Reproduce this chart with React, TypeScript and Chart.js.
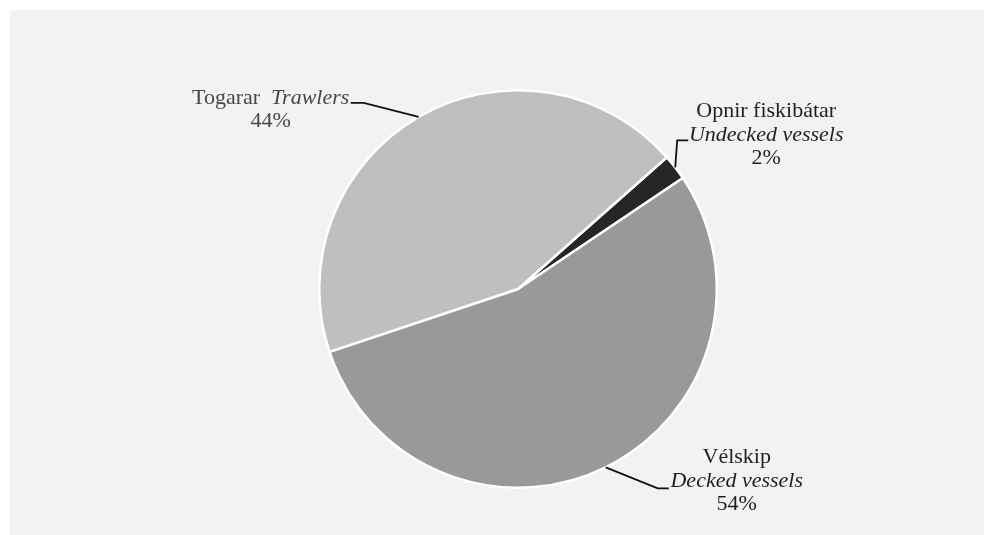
import React, { useEffect, useRef } from "react";
import { Chart, registerables } from "chart.js";

Chart.register(...registerables);

// ---- data ----
const categoryNames = ["Opnir fiskibátar", "Vélskip", "Togarar"];
const categoryNamesEn = ["Undecked vessels", "Decked vessels", "Trawlers"];
const shares = [2.1, 54.3, 43.6];
const sliceColors = ["#262626", "#999999", "#bfbfbf"];

// ---- label layout (relative to slice mid-point on the rim) ----
const labelLayout = [
  { elbow: [2, -27], tail: 11, textDx: 78, textDy: -29, inline: false, color: "#1f1f1f" },
  { elbow: [52, 21], tail: 11, textDx: 68, textDy: -31, inline: false, color: "#1f1f1f" },
  { elbow: [-55, -14], tail: -13, textDx: -80, textDy: -5, inline: true, color: "#474747" },
];

const FONT_SIZE = 22;
const FAMILY = '"Liberation Serif", "Times New Roman", serif';
const LINE_STEP = 23.5;

const leaderPlugin = {
  id: "leaderLabels",
  afterDatasetsDraw(chart: any) {
    const ctx = chart.ctx as CanvasRenderingContext2D;
    const meta = chart.getDatasetMeta(0);
    const data = chart.data.datasets[0].data as number[];
    const total = data.reduce((a, b) => a + b, 0);
    meta.data.forEach((arc: any, i: number) => {
      const p = arc.getProps(["x", "y", "startAngle", "endAngle", "outerRadius"], true);
      const mid = (p.startAngle + p.endAngle) / 2;
      const ax = p.x + Math.cos(mid) * p.outerRadius;
      const ay = p.y + Math.sin(mid) * p.outerRadius;
      const L = labelLayout[i];
      const ex = ax + L.elbow[0];
      const ey = ay + L.elbow[1];
      const tx = ex + L.tail;
      ctx.save();
      ctx.strokeStyle = "#111111";
      ctx.lineWidth = 1.8;
      ctx.beginPath();
      ctx.moveTo(ax, ay);
      ctx.lineTo(ex, ey);
      ctx.lineTo(tx, ey);
      ctx.stroke();

      const cx = tx + L.textDx;
      let y = ey + L.textDy;
      const pct = Math.round((data[i] / total) * 100) + "%";
      const regular = `${FONT_SIZE}px ${FAMILY}`;
      const italic = `italic ${FONT_SIZE}px ${FAMILY}`;
      ctx.fillStyle = L.color;
      ctx.textBaseline = "middle";
      const lines: Array<Array<[string, string]>> = L.inline
        ? [[[categoryNames[i] + "  ", regular], [categoryNamesEn[i], italic]], [[pct, regular]]]
        : [[[categoryNames[i], regular]], [[categoryNamesEn[i], italic]], [[pct, regular]]];
      lines.forEach((parts) => {
        let w = 0;
        parts.forEach(([t, f]) => {
          ctx.font = f;
          w += ctx.measureText(t).width;
        });
        let x = cx - w / 2;
        ctx.textAlign = "left";
        parts.forEach(([t, f]) => {
          ctx.font = f;
          ctx.fillText(t, x, y);
          x += ctx.measureText(t).width;
        });
        y += LINE_STEP;
      });
      ctx.restore();
    });
  },
};

export default function App() {
  const ref = useRef<HTMLCanvasElement | null>(null);
  useEffect(() => {
    if (!ref.current) return;
    const chart = new Chart(ref.current, {
      type: "pie",
      data: {
        labels: categoryNames,
        datasets: [
          {
            data: shares,
            backgroundColor: sliceColors,
            borderColor: "#ffffff",
            borderWidth: 2.5,
          },
        ],
      },
      options: {
        responsive: false,
        animation: false,
        rotation: 48.5,
        layout: { padding: { top: 89, bottom: 46, left: 318, right: 266 } },
        plugins: {
          legend: { display: false },
          tooltip: { enabled: false },
        },
      },
      plugins: [leaderPlugin],
    });
    return () => chart.destroy();
  }, []);
  return (
    <div style={{ position: "absolute", left: 0, top: 0, width: 984, height: 535, background: "#ffffff" }}>
      <div style={{ position: "absolute", left: 10, top: 10, width: 974, height: 525, background: "#f1f2f1" }} />
      <canvas ref={ref} width={984} height={535} style={{ position: "absolute", left: 0, top: 0 }} />
    </div>
  );
}
